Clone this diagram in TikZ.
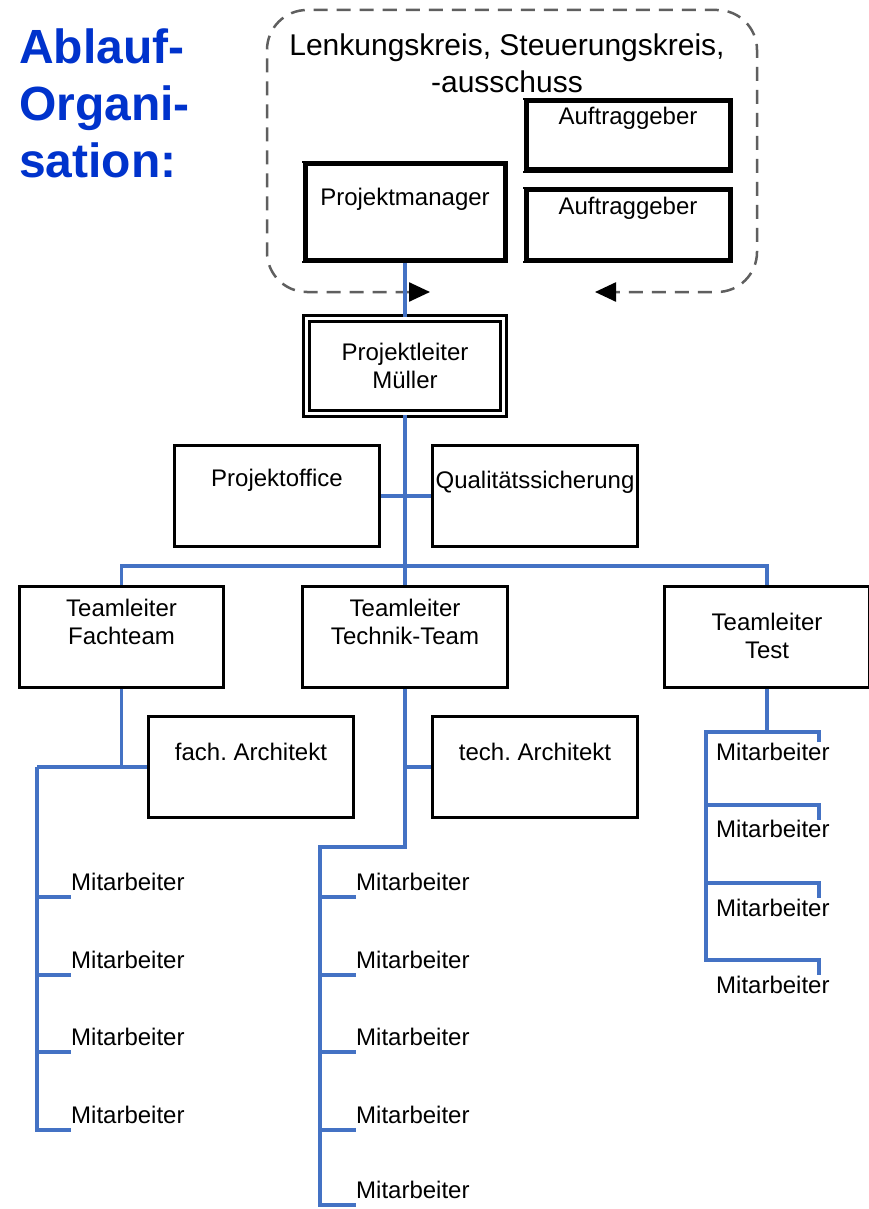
\documentclass[tikz,border=0pt]{standalone}
\usepackage{fontspec}
\setmainfont{Liberation Sans}
\usetikzlibrary{arrows.meta}
\definecolor{linkblue}{RGB}{68,114,196}
\definecolor{titleblue}{RGB}{0,51,204}
\definecolor{dashgray}{RGB}{95,95,95}
\frenchspacing
\begin{document}
\begin{tikzpicture}[x=1pt,y=-1pt,
  box/.style={draw=black, line width=3.4pt, fill=white, minimum width=204.5pt, minimum height=100.5pt, inner sep=0pt},
  heavybox/.style={draw=black, line width=5.5pt, fill=white, inner sep=0pt},
  lbl/.style={font=\fontsize{24}{28}\selectfont, align=center, inner sep=0pt},
  mit/.style={font=\fontsize{24}{28}\selectfont, inner sep=0pt, anchor=west},
  conn/.style={draw=linkblue, line width=3.2pt},
  circle line/.style={draw=dashgray, line width=2.5pt, dash pattern=on 14pt off 9pt, rounded corners=40pt,
    {Triangle[length=21pt,width=19pt,color=black]}-{Triangle[length=21pt,width=19pt,color=black]}}]

\useasboundingbox[fill=white] (0,0) rectangle (868,1209);

% heading on the left
\node[anchor=north west, inner sep=0pt, align=left, text=titleblue,
      font=\fontsize{48}{57}\selectfont\bfseries] (title) at (19,29) {Ablauf-\\Organi-\\sation:};

% steering committee boundary with its two return arrows
\coordinate (ctl) at (430,292);
\coordinate (ctr) at (595,292);
\draw[circle line] (ctl) -- (267,292) -- (267,10) -- (757,10) -- (757,292) -- (ctr);
\node[lbl, font=\fontsize{30}{37}\selectfont] (sk) at (507,63.5) {Lenkungskreis, Steuerungskreis,\\-ausschuss};

% committee members
\node[heavybox, minimum width=204.5pt, minimum height=69.5pt] (ag1) at (628,135.5) {};
\node[heavybox, minimum width=204.5pt, minimum height=70.5pt] (ag2) at (628,225) {};
\node[heavybox, minimum width=200.5pt, minimum height=96.5pt] (pm) at (405,212) {};
\foreach \b in {ag1,ag2,pm}
  \draw[white, line width=1.8pt] ([yshift=-2pt]\b.north west) -- ([yshift=2pt]\b.south west);
\node[lbl] (ag1t) at ([yshift=17.5pt]ag1.center) {Auftraggeber};
\node[lbl] (ag2t) at ([yshift=17pt]ag2.center) {Auftraggeber};
\node[lbl] (pmt) at ([yshift=13pt]pm.center) {Projektmanager};

% project lead
\node[draw=black, double=white, double distance=3pt, line width=2.8pt, fill=white,
      minimum width=197.5pt, minimum height=95.5pt, inner sep=0pt] (pl) at (405,366) {};
\node[lbl] (plt) at (pl.center) {Projektleiter\\Müller};

% staff functions
\node[box] (po) at (277,496) {};
\node[box] (qs) at (535,496) {};
\node[lbl] (pot) at ([yshift=16pt]po.center) {Projektoffice};
\node[lbl] (qst) at ([yshift=14pt]qs.center) {Qualitätssicherung};

% team leads
\node[box] (tf) at (121.5,637) {};
\node[box] (tt) at (405,637) {};
\node[box] (tx) at (767,637) {};
\node[lbl] (tft) at ([yshift=15pt]tf.center) {Teamleiter\\Fachteam};
\node[lbl] (ttt) at ([yshift=15pt]tt.center) {Teamleiter\\Technik-Team};
\node[lbl] (txt) at ([yshift=1pt]tx.center) {Teamleiter\\Test};

% architects
\node[box] (fa) at (251,767) {};
\node[box] (ta) at (535,767) {};
\node[lbl] (fat) at ([yshift=15pt]fa.center) {fach. Architekt};
\node[lbl] (tat) at ([yshift=15pt]ta.center) {tech. Architekt};

% upper connectors
\draw[conn] (pm.south) -- (pl.north);
\draw[conn] (pl.south) -- (tt.north);
\draw[conn] (po.east) -- (qs.west);
\coordinate (bus) at (405,566);
\draw[conn] (tf.north) |- (bus) -| (tx.north);

% Fachteam branch
\coordinate (fj) at (37,767);
\draw[conn] (tf.south) -- (tf.south |- fa.west);
\draw[conn] (fj) -- (fa.west);
\foreach \i/\y in {1/897,2/975,3/1052,4/1130} {
  \coordinate (fk\i) at (71,\y);
  \node[mit] (fm\i) at ([yshift=15pt]fk\i) {Mitarbeiter};
}
\draw[conn] (fj) |- (fk4);
\foreach \i in {1,2,3}
  \draw[conn] (fj |- fk\i) -- (fk\i);

% Technik-Team branch
\coordinate (tc) at (320,847);
\draw[conn] (tt.south |- ta.west) -- (ta.west);
\foreach \i/\y in {1/897,2/975,3/1052,4/1130,5/1205} {
  \coordinate (tk\i) at (356,\y);
  \node[mit] (tm\i) at ([yshift=15pt]tk\i) {Mitarbeiter};
}
\draw[conn] (tt.south) |- (tc) |- (tk5);
\foreach \i in {1,2,3,4}
  \draw[conn] (tc |- tk\i) -- (tk\i);

% Test branch
\coordinate (xj) at (767,732);
\coordinate (xt) at (706,732);
\coordinate (xb) at (706,960);
\draw[conn] (tx.south) -- (xj);
\foreach \i/\y/\t in {1/742/752,2/820/829,3/898/908,4/975/985} {
  \coordinate (xk\i) at (819,\y);
  \node[mit] (xm\i) at (716,\t) {Mitarbeiter};
}
\draw[conn] (xk1) |- (xt) -- (xb) -| (xk4);
\draw[conn] (xt |- 0,805) -| (xk2);
\draw[conn] (xt |- 0,883) -| (xk3);
\end{tikzpicture}
\end{document}
